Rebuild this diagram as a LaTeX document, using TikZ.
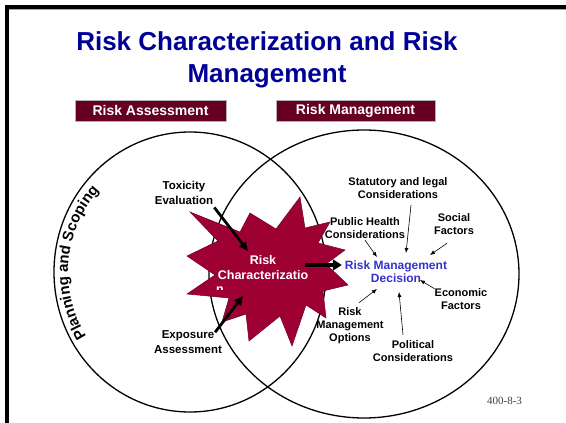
\documentclass[tikz,border=0pt]{standalone}
\usepackage{fontspec}
\setmainfont{Liberation Sans}
\newfontfamily\slidenum{Liberation Serif}
\usetikzlibrary{arrows.meta,decorations.text}

\definecolor{titleblue}{RGB}{0,0,150}
\definecolor{hdrred}{RGB}{102,0,34}
\definecolor{starred}{RGB}{158,0,52}
\definecolor{decblue}{RGB}{51,51,204}

\begin{document}
\begin{tikzpicture}[
  x=1pt, y=-1pt,
  >=Latex,
  titletxt/.style={text=titleblue, font=\fontsize{26}{32}\selectfont\bfseries, align=center, inner sep=0pt},
  hdrbox/.style={fill=hdrred, draw=gray!60, line width=0.8pt, text=white, font=\fontsize{14}{16}\selectfont\bfseries, minimum height=21pt, inner sep=0pt},
  factor/.style={font=\fontsize{11}{13}\selectfont\bfseries, align=center, inner sep=0pt},
  inputlbl/.style={font=\fontsize{11.5}{15}\selectfont\bfseries, align=center, inner sep=0pt},
  starlbl/.style={text=white, font=\fontsize{12.5}{15}\selectfont\bfseries, align=center, inner sep=0pt},
  decision/.style={text=decblue, font=\fontsize{12}{13}\selectfont\bfseries, align=center, inner sep=0pt},
  circ/.style={draw, line width=1.3pt},
  thinarr/.style={-{Latex[length=5pt,width=4pt]}, line width=0.6pt},
  fatarr/.style={-{Triangle[length=9pt,width=8pt]}, line width=2.8pt},
  bigarr/.style={-{Triangle[length=9pt,width=11pt]}, line width=4pt}
]
\useasboundingbox (0,0) rectangle (566,423);

% slide frame
\draw[gray!70, line width=1pt] (9,9.8) -- (566,9.8);
\draw[line width=3.6pt] (7.2,7.2) -- (566,7.2);
\draw[line width=3.6pt] (7.2,5.4) -- (7.2,423);

% title and headers
\node[titletxt, anchor=north] (title) at (267,31) {Risk Characterization and Risk\\Management};
\node[hdrbox, minimum width=151pt] (hra) at (150.5,110.5) {Risk Assessment};
\node[hdrbox, minimum width=159pt] (hrm) at (355.5,110.5) {Risk Management};

% the two circles
\draw[circ] (190,272) ellipse [x radius=136, y radius=140];
\draw[circ] (364,274) ellipse [x radius=155, y radius=144];

% planning and scoping, along the left circle
\path[decorate, decoration={text along path, text align=center,
  text={|\fontsize{15}{15}\selectfont\bfseries|Planning and Scoping}}]
  (190,272) ++(147:122) arc [start angle=147, end angle=223, radius=122];

% risk characterization star
\filldraw[fill=starred, draw=starred!70!black, line width=0.5pt]
  (300,197) -- (305,228) -- (330,222) -- (318,243) -- (345,250) -- (326,264)
  -- (348,285) -- (323,291) -- (326,318) -- (306,305) -- (292,346) -- (280,316)
  -- (249,341) -- (246,314) -- (222,322) -- (229,298) -- (187,294) -- (215,275)
  -- (187,256) -- (218,241) -- (190,212) -- (240,232) -- (250,213) -- (276,229)
  -- cycle;
\node[starlbl] (rc) at (263,267.5) {Risk\\Characterizatio};
\begin{scope}
  \clip (205,280) rectangle (240,289.5);
  \node[starlbl] (rcn) at (220,290) {n};
\end{scope}

% assessment inputs
\node[inputlbl] (tox) at (184,192.5) {Toxicity\\Evaluation};
\node[inputlbl] (exp) at (188,342) {Exposure\\Assessment};

% decision and its factors
\node[decision] (rmd) at (396,271.5) {Risk Management\\Decision};
\node[factor] (stat) at (398,188) {Statutory and legal\\Considerations};
\node[factor] (pub) at (365,228) {Public Health\\Considerations};
\node[factor] (soc) at (454,224.5) {Social\\Factors};
\node[factor] (eco) at (461,299.5) {Economic\\Factors};
\node[factor] (opt) at (350,326) {Risk\\Management\\Options};
\node[factor] (pol) at (413,351.5) {Political\\Considerations};

\node[font=\slidenum\fontsize{11}{12}\selectfont, text=black!75, inner sep=0pt] (num) at (504.5,400.5) {400-8-3};

% arrow tips
\coordinate (toxtip) at (248,251);
\coordinate (exptip) at (243,296);
\coordinate (stattip) at (406,253);
\coordinate (pubtip) at (377,257);
\coordinate (soctip) at (430,255);
\coordinate (ecotip) at (420,280);
\coordinate (opttip) at (377,289);
\coordinate (poltip) at (399,292);

\draw[fatarr] ([xshift=1pt,yshift=-3pt]tox.south east) -- (toxtip);
\draw[fatarr] ([xshift=-7pt,yshift=-2pt]exp.north east) -- (exptip);
\draw[bigarr] ([xshift=-3pt,yshift=2.5pt]rc.east) -- ([xshift=-3pt,yshift=6.5pt]rmd.west);

\draw[thinarr] ([xshift=13pt,yshift=-6.5pt]stat.south) -- (stattip);
\draw[thinarr] ([yshift=-1.5pt]pub.south) -- (pubtip);
\draw[thinarr] ([xshift=-7pt,yshift=-8pt]soc.south) -- (soctip);
\draw[thinarr] (eco.north west) -- (ecotip);
\draw[thinarr] ([xshift=9pt,yshift=5pt]opt.north) -- (opttip);
\draw[thinarr] ([xshift=-10pt,yshift=6pt]pol.north) -- (poltip);
\end{tikzpicture}
\end{document}
